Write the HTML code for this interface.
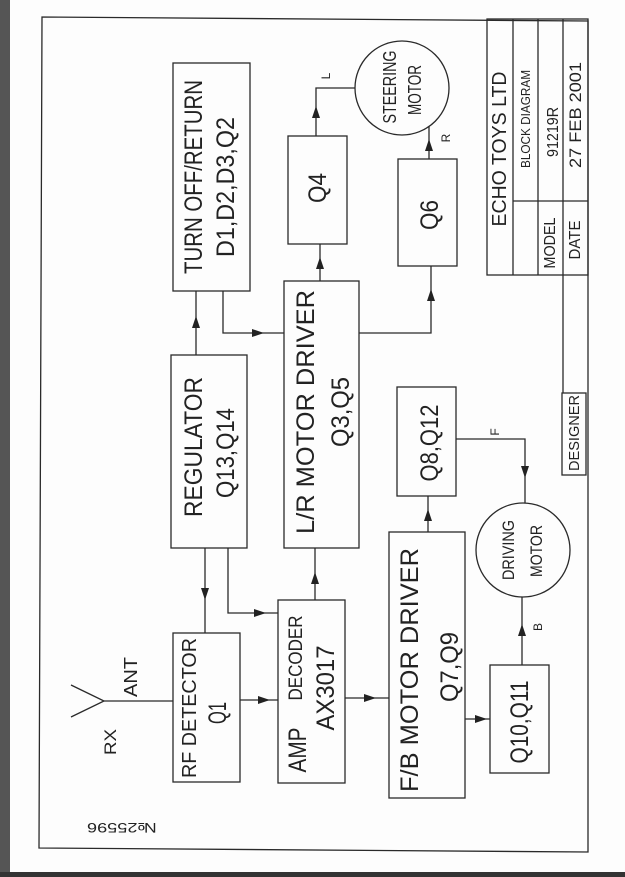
<!DOCTYPE html>
<html><head><meta charset="utf-8"><style>
html,body{margin:0;padding:0;background:#fff;}
svg{display:block;}
text{font-family:"Liberation Sans",sans-serif;fill:#222;}
</style></head><body>
<svg width="625" height="877" viewBox="0 0 625 877" xmlns="http://www.w3.org/2000/svg">
<rect x="0" y="0" width="625" height="877" fill="#fdfdfd"/>
<rect x="0" y="0" width="10" height="877" fill="#555"/>
<rect x="0" y="872" width="625" height="5" fill="#333"/>
<g fill="none" stroke="#2a2a2a" stroke-width="1.3">
<path d="M42 17 L588 21 L588 852 L39 848 Z"/>
<!-- boxes -->
<rect x="173" y="63" width="77" height="228"/>
<rect x="288" y="136" width="59" height="108"/>
<rect x="398" y="159" width="59" height="107"/>
<rect x="284" y="281" width="75" height="267"/>
<rect x="171" y="355" width="76" height="193"/>
<rect x="397" y="387" width="59" height="109"/>
<rect x="173" y="633" width="67" height="149"/>
<rect x="278" y="600" width="67" height="183"/>
<rect x="389" y="532" width="76" height="266"/>
<rect x="490" y="665" width="59" height="108"/>
<ellipse cx="402" cy="88" rx="47" ry="47"/>
<ellipse cx="523" cy="550" rx="47" ry="47"/>
<!-- title block -->
<rect x="487" y="19" width="101" height="256"/>
<line x1="513" y1="19" x2="513" y2="275"/>
<line x1="538" y1="19" x2="538" y2="275"/>
<line x1="563" y1="19" x2="563" y2="393"/>
<line x1="513" y1="201" x2="588" y2="201"/>
<rect x="562" y="393" width="24" height="82"/>
<!-- connectors -->
<path d="M196 355 V291"/>
<path d="M223 291 V333 H284"/>
<path d="M320 281 V244"/>
<path d="M316 136 V88 H355"/>
<path d="M359 333 H431 V266"/>
<path d="M429 159 V126"/>
<path d="M205 548 V633"/>
<path d="M228 548 V613 H278"/>
<path d="M315 600 V548"/>
<path d="M240 700 H278"/>
<path d="M104 701 H173"/>
<path d="M71 685 L104 701 L71 717"/>
<path d="M345 698 H389"/>
<path d="M465 719 H490"/>
<path d="M428 532 V496"/>
<path d="M456 439 H525 V503"/>
<path d="M522 665 V597"/>
</g>
<g fill="#222">
<path d="M196 316 l-4 12 h8 z"/>
<path d="M264 333 l-12 -4 v8 z"/>
<path d="M320 257 l-4 12 h8 z"/>
<path d="M316 106 l-4 12 h8 z"/>
<path d="M431 289 l-4 12 h8 z"/>
<path d="M429 139 l-4 12 h8 z"/>
<path d="M205 600 l-4 -12 h8 z"/>
<path d="M266 613 l-12 -4 v8 z"/>
<path d="M315 572 l-4 12 h8 z"/>
<path d="M270 700 l-12 -4 v8 z"/>
<path d="M376 698 l-12 -4 v8 z"/>
<path d="M487 719 l-12 -4 v8 z"/>
<path d="M428 509 l-4 12 h8 z"/>
<path d="M525 478 l-4 -12 h8 z"/>
<path d="M522 624 l-4 12 h8 z"/>
</g>
<g text-anchor="middle">
<text transform="translate(202,177) rotate(-90)" font-size="25" textLength="194" lengthAdjust="spacingAndGlyphs">TURN OFF/RETURN</text>
<text transform="translate(234,187) rotate(-90)" font-size="25" textLength="140" lengthAdjust="spacingAndGlyphs">D1,D2,D3,Q2</text>
<text transform="translate(326,188) rotate(-90)" font-size="25" textLength="30" lengthAdjust="spacingAndGlyphs">Q4</text>
<text transform="translate(438,215) rotate(-90)" font-size="25" textLength="30" lengthAdjust="spacingAndGlyphs">Q6</text>
<text transform="translate(396,87) rotate(-90)" font-size="18" textLength="73" lengthAdjust="spacingAndGlyphs">STEERING</text>
<text transform="translate(421,90) rotate(-90)" font-size="18" textLength="50" lengthAdjust="spacingAndGlyphs">MOTOR</text>
<text transform="translate(202,447) rotate(-90)" font-size="25" textLength="140" lengthAdjust="spacingAndGlyphs">REGULATOR</text>
<text transform="translate(234,453) rotate(-90)" font-size="25" textLength="90" lengthAdjust="spacingAndGlyphs">Q13,Q14</text>
<text transform="translate(314,412) rotate(-90)" font-size="25" textLength="244" lengthAdjust="spacingAndGlyphs">L/R MOTOR DRIVER</text>
<text transform="translate(349,412) rotate(-90)" font-size="25" textLength="70" lengthAdjust="spacingAndGlyphs">Q3,Q5</text>
<text transform="translate(438,443) rotate(-90)" font-size="25" textLength="77" lengthAdjust="spacingAndGlyphs">Q8,Q12</text>
<text transform="translate(196,708) rotate(-90)" font-size="20" textLength="140" lengthAdjust="spacingAndGlyphs">RF DETECTOR</text>
<text transform="translate(226,713) rotate(-90)" font-size="25" textLength="22" lengthAdjust="spacingAndGlyphs">Q1</text>
<text transform="translate(306,750) rotate(-90)" font-size="25" textLength="45" lengthAdjust="spacingAndGlyphs">AMP</text>
<text transform="translate(302,658) rotate(-90)" font-size="19" textLength="85" lengthAdjust="spacingAndGlyphs">DECODER</text>
<text transform="translate(334,688) rotate(-90)" font-size="25" textLength="85" lengthAdjust="spacingAndGlyphs">AX3017</text>
<text transform="translate(418,670) rotate(-90)" font-size="25" textLength="244" lengthAdjust="spacingAndGlyphs">F/B MOTOR DRIVER</text>
<text transform="translate(458,667) rotate(-90)" font-size="25" textLength="70" lengthAdjust="spacingAndGlyphs">Q7,Q9</text>
<text transform="translate(528,722) rotate(-90)" font-size="25" textLength="83" lengthAdjust="spacingAndGlyphs">Q10,Q11</text>
<text transform="translate(514,550) rotate(-90)" font-size="17" textLength="60" lengthAdjust="spacingAndGlyphs">DRIVING</text>
<text transform="translate(542,551) rotate(-90)" font-size="17" textLength="52" lengthAdjust="spacingAndGlyphs">MOTOR</text>
<text transform="translate(116,742) rotate(-90)" font-size="17" textLength="26" lengthAdjust="spacingAndGlyphs">RX</text>
<text transform="translate(137,677) rotate(-90)" font-size="18" textLength="40" lengthAdjust="spacingAndGlyphs">ANT</text>
<text transform="translate(330,76) rotate(-90)" font-size="12">L</text>
<text transform="translate(450,138) rotate(-90)" font-size="12">R</text>
<text transform="translate(499,432) rotate(-90)" font-size="12">F</text>
<text transform="translate(542,627) rotate(-90)" font-size="12">B</text>
<text transform="translate(506,149) rotate(-90)" font-size="20" textLength="155" lengthAdjust="spacingAndGlyphs">ECHO TOYS LTD</text>
<text transform="translate(530,119) rotate(-90)" font-size="13" textLength="98" lengthAdjust="spacingAndGlyphs">BLOCK DIAGRAM</text>
<text transform="translate(558,132) rotate(-90)" font-size="16" textLength="50" lengthAdjust="spacingAndGlyphs">91219R</text>
<text transform="translate(581,115) rotate(-90)" font-size="17" textLength="106" lengthAdjust="spacingAndGlyphs">27 FEB 2001</text>
<text transform="translate(555,243) rotate(-90)" font-size="16" textLength="51" lengthAdjust="spacingAndGlyphs">MODEL</text>
<text transform="translate(580,240) rotate(-90)" font-size="16" textLength="39" lengthAdjust="spacingAndGlyphs">DATE</text>
<text transform="translate(579,433) rotate(-90)" font-size="15" textLength="76" lengthAdjust="spacingAndGlyphs">DESIGNER</text>
<text transform="translate(122,823) rotate(180)" font-size="14" fill="#555" textLength="70" lengthAdjust="spacingAndGlyphs">№25596</text>
</g>
</svg>
</body></html>
